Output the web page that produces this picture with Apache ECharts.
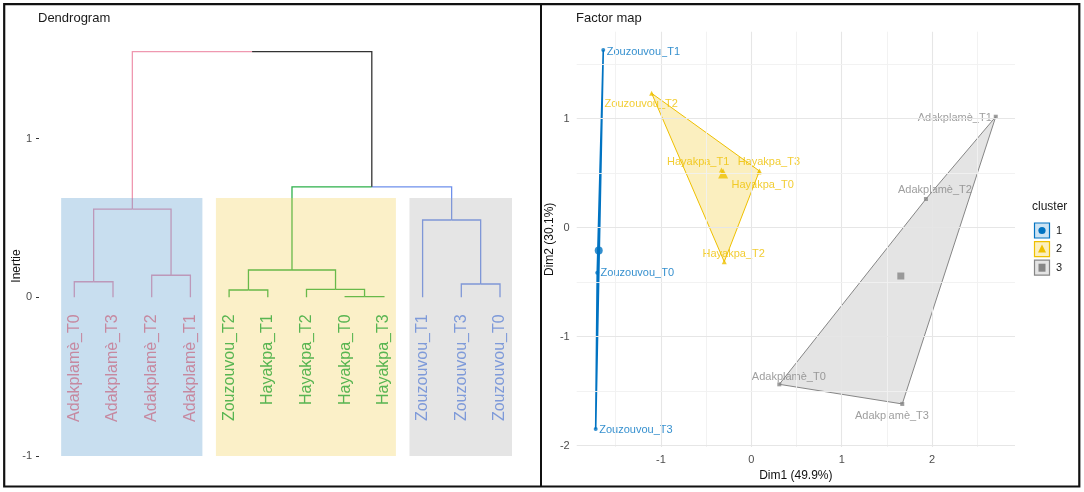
<!DOCTYPE html>
<html><head><meta charset="utf-8">
<script src="https://cdn.jsdelivr.net/npm/echarts@6/dist/echarts.min.js"></script>
<style>html,body{margin:0;padding:0;background:#fff}#c{width:1084px;height:492px}</style>
</head><body><div id="c"></div>
<script>
// ---------------- Dendrogram data ----------------
const leafNames = ["Adakplamè_T0","Adakplamè_T3","Adakplamè_T2","Adakplamè_T1","Zouzouvou_T2","Hayakpa_T1","Hayakpa_T2","Hayakpa_T0","Hayakpa_T3","Zouzouvou_T1","Zouzouvou_T3","Zouzouvou_T0"];
const leafGroup = [0,0,0,0,1,1,1,1,1,2,2,2];
// hclust-style merges: negative = leaf (1-based), positive = earlier merge (1-based)
const mergeLeft   = [-8,-5,-7,-11,-1,-3, 2,-10, 5, 7, 9];
const mergeRight  = [-9,-6, 1,-12,-2,-4, 3,  4, 6, 8,10];
const mergeHeight = [0.004,0.046,0.050,0.084,0.098,0.139,0.172,0.487,0.556,0.696,1.547];
const dendTicks = [-1,0,1];

// ---------------- Factor map data ----------------
const indNames = ["Zouzouvou_T1","Zouzouvou_T2","Zouzouvou_T0","Zouzouvou_T3","Hayakpa_T1","Hayakpa_T3","Hayakpa_T0","Hayakpa_T2","Adakplamè_T1","Adakplamè_T2","Adakplamè_T0","Adakplamè_T3"];
const dim1 = [-1.637,-1.102,-1.704,-1.721,-0.33,0.09,0.085,-0.299,2.704,1.932,0.31,1.670];
const dim2 = [1.630,1.233,-0.413,-1.847,0.53,0.52,0.51,-0.312,1.018,0.263,-1.437,-1.617];
const indCluster = [1,2,1,1,2,2,2,2,3,3,3,3];
const clusterNames = ["1","2","3"];
const dim1Ticks = [-1,0,1,2];
const dim2Ticks = [-2,-1,0,1];
const dim1Grid = [-1.5,-1,-0.5,0,0.5,1,1.5,2,2.5];
const dim2Grid = [-2,-1.5,-1,-0.5,0,0.5,1,1.5];

// ---------------- styles ----------------
const FONT = '"Liberation Sans", Arial, sans-serif';
const groupLineColors = ['#EF98B0','#2DB04A','#6E90EB'];
const groupLabelColors = ['#C5738C','#2FA633','#6487D6'];
const boxFills = ['rgba(85,152,205,0.32)','rgba(242,205,72,0.3)','rgba(168,168,168,0.3)'];
const clusterColors = ['#0073C2','#EFC000','#868686'];
const clusterFills = ['rgba(0,115,194,0.2)','rgba(239,192,0,0.25)','rgba(134,134,134,0.22)'];
const clusterSymbols = ['circle','triangle','rect'];
// label placement for factor map individuals (align, dx, dy in px)
const labAlign = ['left','center','left','left','center','center','center','center','right','center','center','center'];
const labDx = [3.4,-10.4,3.4,3.6,-23.3,9.4,3.7,9.5,-4,9,9.5,-10.3];
const labDy = [2.3,10.7,0.6,1,-8.2,-9.4,12.6,-7.7,1.6,-9,-7,11.7];

// ---------------- dendrogram geometry ----------------
const mX = [], mG = [];
const nX = r => r < 0 ? -r : mX[r-1];
const nH = r => r < 0 ? 0 : mergeHeight[r-1];
const nG = r => r < 0 ? leafGroup[-r-1] : mG[r-1];
const segs = [];
for (let i = 0; i < mergeHeight.length; i++) {
  const l = mergeLeft[i], r = mergeRight[i];
  mX[i] = (nX(l) + nX(r)) / 2;
  mG[i] = nG(l) === nG(r) ? nG(l) : -1;
}
for (let i = 0; i < mergeHeight.length; i++) {
  [mergeLeft[i], mergeRight[i]].forEach(c => {
    const g = nG(c);
    segs.push({coords: [[nX(c), nH(c)], [nX(c), mergeHeight[i]], [mX[i], mergeHeight[i]]],
      lineStyle: {color: g >= 0 ? groupLineColors[g] : '#333333'}});
  });
}
const boxes = [0,1,2].map(g => {
  const idx = leafGroup.map((v,i)=>v===g?i+1:null).filter(v=>v!==null);
  return [Math.min(...idx) - 0.34, Math.max(...idx) + 0.31, g];
});

// ---------------- factor map geometry ----------------
function hull(pts){
  const p = pts.slice().sort((a,b)=>a[0]-b[0]||a[1]-b[1]);
  const cr=(o,a,b)=>(a[0]-o[0])*(b[1]-o[1])-(a[1]-o[1])*(b[0]-o[0]);
  const lo=[],up=[];
  for(const q of p){while(lo.length>=2&&cr(lo[lo.length-2],lo[lo.length-1],q)<=0)lo.pop();lo.push(q);}
  for(let i=p.length-1;i>=0;i--){const q=p[i];while(up.length>=2&&cr(up[up.length-2],up[up.length-1],q)<=0)up.pop();up.push(q);}
  up.pop();lo.pop();return lo.concat(up);
}
const members = [1,2,3].map(c => indCluster.map((v,i)=>v===c?i:-1).filter(i=>i>=0));
const hulls = members.map(m => hull(m.map(i=>[dim1[i],dim2[i]])));
const centroids = members.map(m => [m.reduce((s,i)=>s+dim1[i],0)/m.length, m.reduce((s,i)=>s+dim2[i],0)/m.length]);

const chart = echarts.init(document.getElementById('c'), null, {renderer:'canvas'});
const series = [];
// dendrogram branches
series.push({type:'lines', coordinateSystem:'cartesian2d', xAxisIndex:0, yAxisIndex:0, polyline:true, z:2,
  silent:true, lineStyle:{width:1.3, opacity:1}, data:segs, animation:false});
// cluster rectangles over the branches
series.push({type:'custom', xAxisIndex:0, yAxisIndex:0, z:3, silent:true, animation:false,
  data: boxes,
  renderItem:(p, api) => {
    const a = api.coord([api.value(0), 0.625]);
    const b = api.coord([api.value(1), -1.0]);
    return {type:'rect', shape:{x:a[0], y:a[1], width:b[0]-a[0], height:b[1]-a[1]},
      style:{fill: boxFills[api.value(2)]}};
  }});
// leaf labels (above the rectangles)
series.push({type:'scatter', xAxisIndex:0, yAxisIndex:0, z:10, zlevel:1, symbolSize:0, silent:true, animation:false,
  data: leafNames.map((n,i)=>({value:[i+1,0], name:n,
    label:{show:true, position:'bottom', distance:17, rotate:90, align:'right', verticalAlign:'middle',
      formatter:n, fontSize:16, fontFamily:FONT, color:groupLabelColors[leafGroup[i]]}}))});

// factor map gridlines
series.push({type:'scatter', xAxisIndex:1, yAxisIndex:1, data:[], silent:true, z:0,
  markLine:{silent:true, symbol:['none','none'], animation:false, label:{show:false},
    data: dim1Grid.map(v=>({xAxis:v, lineStyle:{type:'solid', color: Number.isInteger(v)?'#E6E6E6':'#F0F0F0', width: Number.isInteger(v)?1.1:0.9}}))
      .concat(dim2Grid.map(v=>({yAxis:v, lineStyle:{type:'solid', color: Number.isInteger(v)?'#E6E6E6':'#F0F0F0', width: Number.isInteger(v)?1.1:0.9}})))}});
// hulls
series.push({type:'custom', xAxisIndex:1, yAxisIndex:1, z:1, silent:true, animation:false,
  data:[[0],[1],[2]],
  renderItem:(p, api) => {
    const c = p.dataIndex;
    return {type:'polygon', shape:{points: hulls[c].map(q=>api.coord(q))},
      style:{fill:clusterFills[c], stroke:clusterColors[c], lineWidth:c===0?1.6:1}};
  }});
// individuals + cluster centres
[0,1,2].forEach(c => {
  series.push({type:'scatter', xAxisIndex:1, yAxisIndex:1, z:3, silent:true, animation:false,
    symbol: clusterSymbols[c], symbolSize: c===1?5:4, itemStyle:{color:clusterColors[c]},
    data: members[c].map(i=>({value:[dim1[i],dim2[i]], name:indNames[i],
      label:{show:true, position:'inside', align:labAlign[i], verticalAlign:'middle', offset:[labDx[i],labDy[i]],
        formatter:indNames[i], fontSize:11, fontFamily:FONT, color:clusterColors[c]}}))});
  series.push({type:'scatter', xAxisIndex:1, yAxisIndex:1, z:4, silent:true, animation:false,
    symbol: clusterSymbols[c], symbolSize: c===0?8:(c===1?10:7), itemStyle:{color:clusterColors[c]},
    data:[centroids[c]]});
});

const axisText = {color:'#4D4D4D', fontSize:11, fontFamily:FONT};
const legendG = [{type:'text', left:1032, top:201, style:{text:'cluster', fontSize:12, fontFamily:FONT, fill:'#1a1a1a'}}];
[0,1,2].forEach(c => {
  const y0 = 223 + c*18.6;
  legendG.push({type:'rect', shape:{x:1034.5, y:y0, width:15, height:15}, style:{fill:clusterFills[c], stroke:clusterColors[c], lineWidth:1.2}});
  const cx = 1042, cy = y0 + 7.5;
  if (c===0) legendG.push({type:'circle', shape:{cx, cy, r:3.6}, style:{fill:clusterColors[c]}});
  if (c===1) legendG.push({type:'polygon', shape:{points:[[cx,cy-4.5],[cx-4,cy+3.5],[cx+4,cy+3.5]]}, style:{fill:clusterColors[c]}});
  if (c===2) legendG.push({type:'rect', shape:{x:cx-3.5, y:cy-4, width:7, height:8}, style:{fill:clusterColors[c]}});
  legendG.push({type:'text', x:1056, y:cy, style:{text:clusterNames[c], fontSize:11, fontFamily:FONT, fill:'#1a1a1a', verticalAlign:'middle'}});
});

chart.setOption({
  animation:false,
  backgroundColor:'#ffffff',
  title:[
    {text:'Dendrogram', left:38, top:12, padding:0, textStyle:{fontSize:13, fontWeight:'normal', color:'#1a1a1a', fontFamily:FONT}},
    {text:'Factor map', left:576, top:12, padding:0, textStyle:{fontSize:13, fontWeight:'normal', color:'#1a1a1a', fontFamily:FONT}}
  ],
  grid:[
    {left:39, top:35.3, width:491, height:436.7, containLabel:false, outerBoundsMode:'none'},
    {left:576.7, top:31.7, width:438.3, height:415.3, containLabel:false, outerBoundsMode:'none'}
  ],
  xAxis:[
    {gridIndex:0, type:'value', min:0.088, max:12.775, show:false},
    {gridIndex:1, type:'value', min:-1.931, max:2.917,
      axisLine:{show:false}, splitLine:{show:false},
      axisTick:{show:true, customValues:dim1Ticks, length:3, lineStyle:{color:'#333'}},
      axisLabel:Object.assign({customValues:dim1Ticks, margin:7}, axisText),
      name:'Dim1 (49.9%)', nameLocation:'middle', nameGap:19,
      nameTextStyle:{color:'#111', fontSize:12, fontFamily:FONT}}
  ],
  yAxis:[
    {gridIndex:0, type:'value', min:-1.1, max:1.65,
      axisLine:{show:false}, splitLine:{show:false},
      axisTick:{show:true, customValues:dendTicks, length:3, lineStyle:{color:'#333'}},
      axisLabel:Object.assign({customValues:dendTicks, margin:7}, axisText)},
    {gridIndex:1, type:'value', min:-2.012, max:1.798,
      axisLine:{show:false}, splitLine:{show:false},
      axisTick:{show:true, customValues:dim2Ticks, length:3, lineStyle:{color:'#333'}},
      axisLabel:Object.assign({customValues:dim2Ticks, margin:7}, axisText),
      name:'Dim2 (30.1%)', nameLocation:'middle', nameGap:18,
      nameTextStyle:{color:'#111', fontSize:12, fontFamily:FONT}}
  ],
  graphic:[
    {type:'text', x:17, y:266, rotation:Math.PI/2, style:{text:'Inertie', fontSize:12, fontFamily:FONT, fill:'#111', align:'center', verticalAlign:'middle'}},
    {type:'rect', shape:{x:4.2, y:4.2, width:1075.1, height:482.3}, style:{fill:'none', stroke:'#111', lineWidth:2.2}},
    {type:'line', shape:{x1:541, y1:4.2, x2:541, y2:486.5}, style:{stroke:'#111', lineWidth:2}}
  ].concat(legendG),
  series: series
});
</script></body></html>
